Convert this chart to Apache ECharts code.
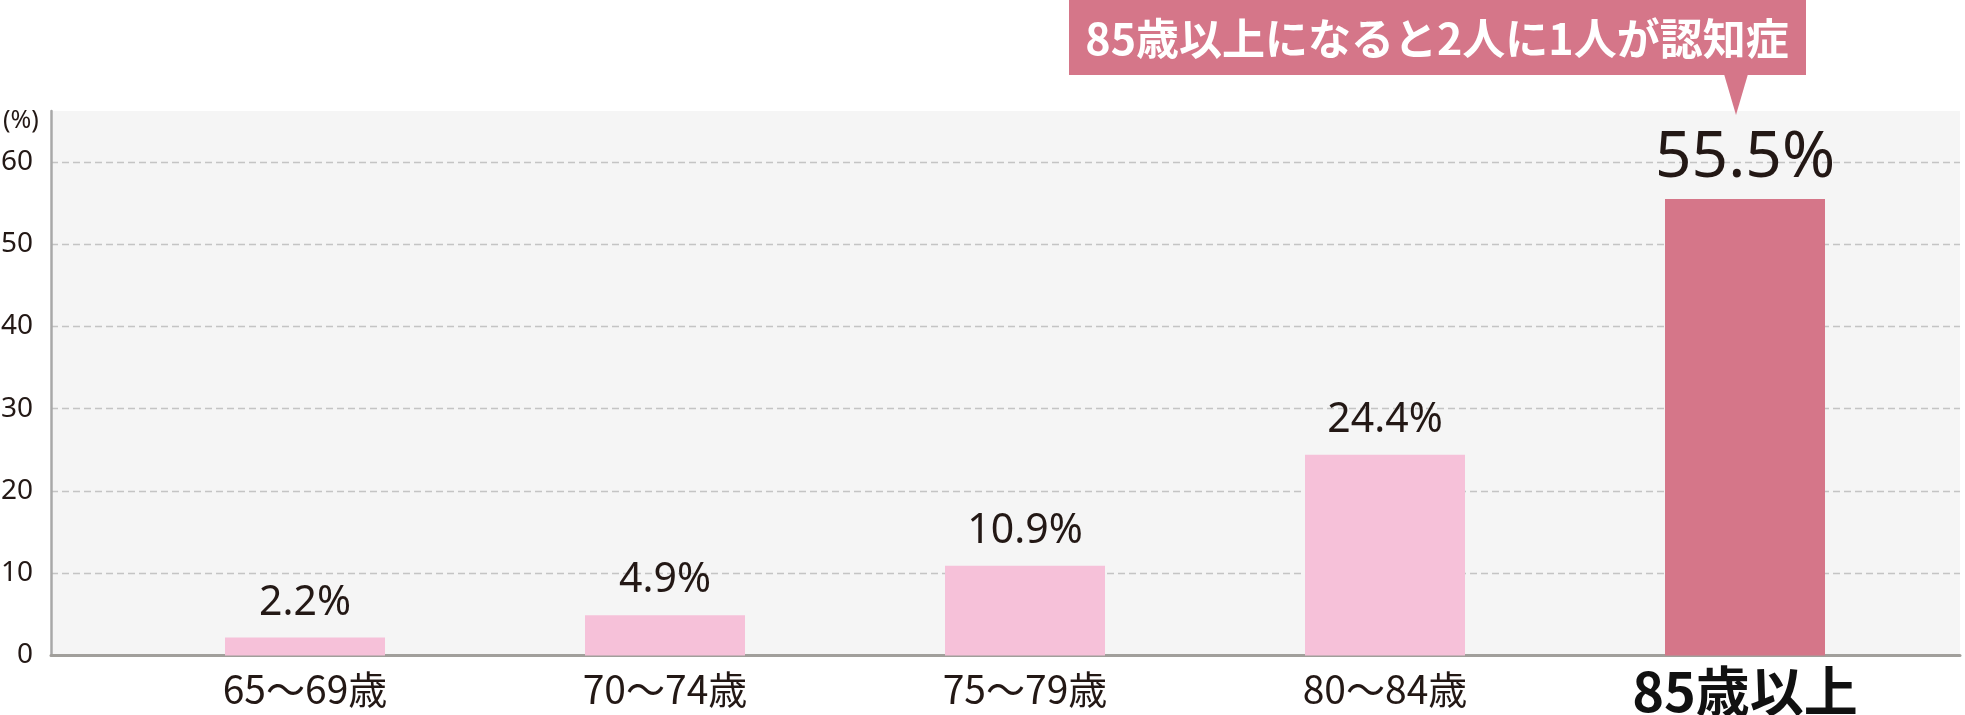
<!DOCTYPE html>
<html><head><meta charset="utf-8">
<script src="https://cdn.jsdelivr.net/npm/echarts@6/dist/echarts.min.js"></script>
<style>html,body{margin:0;padding:0;background:#fff}#c{width:1965px;height:715px}</style>
</head><body><div id="c"></div>
<script>
const categories = ['65～69歳', '70～74歳', '75～79歳', '80～84歳', '85歳以上'];
const values = [2.2, 4.9, 10.9, 24.4, 55.5];
const yTicks = [0, 10, 20, 30, 40, 50, 60];
const calloutText = '85歳以上になると2人に1人が認知症';
const unitLabel = '(%)';
const highlightIndex = 4;

const LIGHT = '#f6c1d9';
const DARK = '#d57689';
const TEXT = '#231815';
const FONT = '"Noto Sans CJK JP", "Noto Sans", sans-serif';

const chart = echarts.init(document.getElementById('c'), null, {renderer: 'canvas'});
const gridTop = 111, gridBottom = 59.5, yMax = 66.2;

chart.setOption({
  animation: false,
  title: {
    text: unitLabel, left: -2, top: 103,
    textStyle: {fontSize: 25, fontWeight: 'normal', color: TEXT, fontFamily: '"Noto Sans", sans-serif'}
  },
  grid: [
    {left: 51, right: 5, top: gridTop, bottom: gridBottom, show: true, backgroundColor: '#f5f5f5',
     borderWidth: 0, outerBoundsMode: 'none', containLabel: false},
    {left: 125, right: 40, top: gridTop, bottom: gridBottom, outerBoundsMode: 'none', containLabel: false}
  ],
  xAxis: [
    {type: 'value', gridIndex: 0, min: 0, max: 1,
     axisLine: {show: true, lineStyle: {color: '#a19f9b', width: 3}},
     axisLabel: {show: false}, axisTick: {show: false}, splitLine: {show: false}},
    {type: 'category', gridIndex: 1, data: categories,
     axisLine: {show: false}, axisTick: {show: false},
     axisLabel: {
       margin: 14, color: TEXT, fontSize: 39, fontFamily: FONT,
       formatter: (v, i) => i === highlightIndex ? '{b|' + v + '}' : v,
       rich: {b: {fontSize: 54, lineHeight: 44, fontWeight: 'bold', color: '#111', fontFamily: FONT}}
     }}
  ],
  yAxis: [
    {type: 'value', gridIndex: 0, min: 0, max: yMax, interval: 10,
     axisLine: {show: true, lineStyle: {color: '#a8a8a8', width: 2.5}},
     axisTick: {show: false},
     axisLabel: {
       margin: 18, color: TEXT, fontSize: 28, fontFamily: '"Noto Sans", sans-serif',
       showMaxLabel: false, padding: [12, 0, 0, 0],
       formatter: v => yTicks.includes(v) ? String(v) : ''
     },
     splitLine: {show: true, showMinLine: false, showMaxLine: false,
       lineStyle: {color: '#c4c4c4', width: 1.3, type: [7, 4]}}},
    {type: 'value', gridIndex: 1, min: 0, max: yMax, show: false, splitLine: {show: false}}
  ],
  series: [{
    type: 'bar', xAxisIndex: 1, yAxisIndex: 1, barWidth: 160,
    data: values.map((v, i) => i === highlightIndex
      ? {value: v, itemStyle: {color: DARK}, label: {distance: 8}}
      : {value: v, itemStyle: {color: LIGHT}}),
    label: {
      show: true, position: 'top', distance: 14, color: TEXT, fontSize: 41,
      fontFamily: '"Noto Sans", sans-serif',
      formatter: p => p.dataIndex === highlightIndex ? '{big|' + p.value + '%}' : p.value + '%',
      rich: {big: {fontSize: 64, color: TEXT, fontFamily: '"Noto Sans", sans-serif'}}
    }
  }],
  graphic: [
    {type: 'rect', shape: {x: 1069, y: 0, width: 737, height: 75}, style: {fill: DARK}, z: 10},
    {type: 'polygon', shape: {points: [[1724, 74], [1748, 74], [1736, 115]]}, style: {fill: DARK}, z: 10},
    {type: 'text', x: 1437, y: 39, z: 11,
     style: {text: calloutText, fill: '#fff', fontSize: 43, fontWeight: 'bold', fontFamily: FONT,
             align: 'center', verticalAlign: 'middle'}}
  ]
});
</script></body></html>
